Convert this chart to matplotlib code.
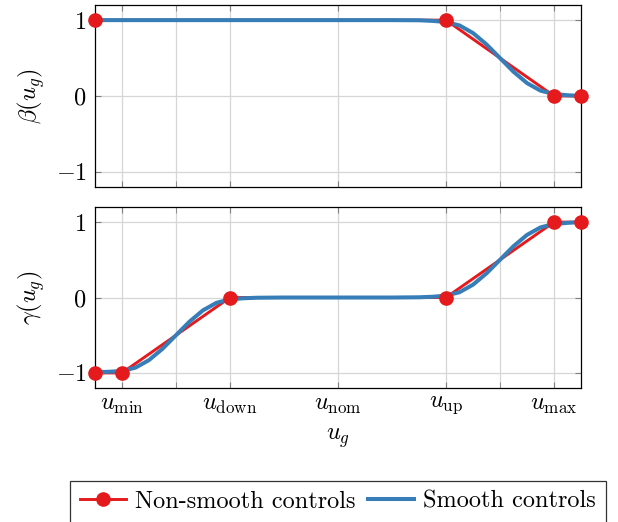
import matplotlib.pyplot as plt
from matplotlib.lines import Line2D

plt.rcParams['font.family'] = 'serif'
plt.rcParams['font.serif'] = ['cmr10']
plt.rcParams['mathtext.fontset'] = 'cm'
plt.rcParams['axes.formatter.use_mathtext'] = True

# control positions (u_min, u_down, u_nom, u_up, u_max) on a plain scale
tick_pos = [1, 3, 5, 7, 9]
tick_labels = [r'$u_{\mathrm{min}}$', r'$u_{\mathrm{down}}$', r'$u_{\mathrm{nom}}$',
               r'$u_{\mathrm{up}}$', r'$u_{\mathrm{max}}$']
minor_pos = [2, 8]

# non-smooth controls (breakpoints)
ns_x_beta = [0.5, 7, 9, 9.5]
ns_beta = [1, 1, 0, 0]
ns_x_gamma = [0.5, 1, 3, 7, 9, 9.5]
ns_gamma = [-1, -1, 0, 0, 1, 1]

# smooth controls
sm_x_beta = [0.5, 6.0, 6.5, 6.75, 7.0, 7.25, 7.5, 7.75, 8.0, 8.25, 8.5, 8.75, 9.0, 9.25, 9.5]
sm_beta = [1.0, 1.0, 0.998, 0.99, 0.975, 0.93, 0.83, 0.68, 0.5, 0.32, 0.17, 0.07, 0.025, 0.01, 0.0]
sm_x_gamma = [0.5, 0.75, 1.0, 1.25, 1.5, 1.75, 2.0, 2.25, 2.5, 2.75, 3.0, 3.25, 3.5, 4.0,
              6.0, 6.5, 6.75, 7.0, 7.25, 7.5, 7.75, 8.0, 8.25, 8.5, 8.75, 9.0, 9.25, 9.5]
sm_gamma = [-0.99, -0.985, -0.975, -0.93, -0.83, -0.68, -0.5, -0.32, -0.17, -0.07, -0.025, -0.01, -0.003, 0.0,
            0.0, 0.003, 0.01, 0.025, 0.07, 0.17, 0.32, 0.5, 0.68, 0.83, 0.93, 0.975, 0.99, 1.0]

red = '#e41a1c'
blue = '#377eb8'
fs = 17.5

fig = plt.figure(figsize=(6.18, 5.22), dpi=100)
ax1 = fig.add_axes([0.1537, 0.6418, 0.7864, 0.3487])
ax2 = fig.add_axes([0.1537, 0.2567, 0.7864, 0.3467])

panels = [(ax1, ns_x_beta, ns_beta, sm_x_beta, sm_beta, r'$\beta(u_g)$'),
          (ax2, ns_x_gamma, ns_gamma, sm_x_gamma, sm_gamma, r'$\gamma(u_g)$')]

for ax, nx, ny, sx, sy, lab in panels:
    ax.plot(nx, ny, color=red, lw=2.1, zorder=3, clip_on=False)
    ax.plot(sx, sy, color=blue, lw=2.9, zorder=4, clip_on=False)
    ax.plot(nx, ny, 'o', color=red, ms=9.5, zorder=5, clip_on=False)
    ax.set_xlim(0.5, 9.5)
    ax.set_ylim(-1.2, 1.2)
    ax.set_yticks([-1, 0, 1])
    ax.set_yticklabels([r'$-1$', r'$0$', r'$1$'])
    ax.set_xticks(tick_pos)
    ax.set_xticks(minor_pos, minor=True)
    ax.grid(True, which='both', color='#d6d6d6', lw=0.9, zorder=0)
    ax.set_axisbelow(True)
    ax.tick_params(which='both', direction='in', top=True, right=True,
                   length=4, color='#808080', labelsize=fs, pad=6)
    ax.set_ylabel(lab, fontsize=fs, labelpad=6)
    for s in ax.spines.values():
        s.set_linewidth(0.9)

ax1.tick_params(labelbottom=False)
ax2.set_xticklabels(tick_labels)
ax2.tick_params(axis='x', pad=4)
ax2.set_xlabel(r'$u_g$', fontsize=fs, labelpad=8)

handles = [Line2D([], [], color=red, lw=2.1, marker='o', ms=9.5),
           Line2D([], [], color=blue, lw=2.9)]
leg = fig.legend(handles, ['Non-smooth controls', 'Smooth controls'],
                 loc='upper center', bbox_to_anchor=(0.547, 1 - 481 / 522),
                 ncol=2, fontsize=fs, frameon=True, fancybox=False,
                 edgecolor='black', handlelength=1.9, columnspacing=0.5,
                 handletextpad=0.38, borderpad=0.4, borderaxespad=0)
leg.get_frame().set_linewidth(0.9)

fig.savefig('out.png', dpi=100)
